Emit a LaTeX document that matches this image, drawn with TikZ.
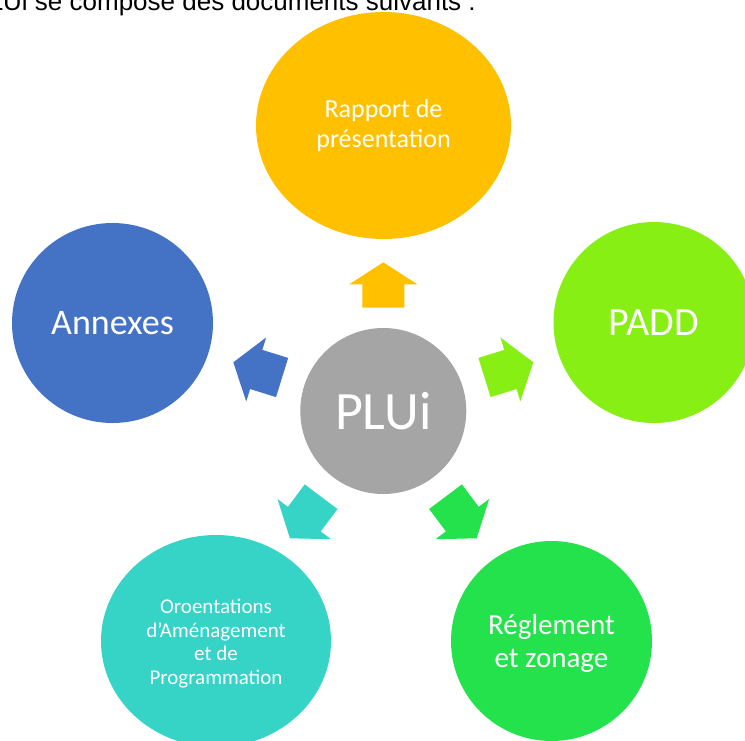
\documentclass[tikz,border=0pt]{standalone}
\usepackage{fontspec}
\setmainfont{Carlito}
\newfontfamily\arialf{Liberation Sans}
\usetikzlibrary{shapes.geometric,calc}
\definecolor{cyellow}{HTML}{FFC000}
\definecolor{cpadd}{HTML}{87EF14}
\definecolor{creg}{HTML}{23E24B}
\definecolor{cteal}{HTML}{36D3C7}
\definecolor{cblue}{HTML}{4472C4}
\definecolor{cgray}{HTML}{A5A5A5}
\newcommand{\blockarrow}[6]{% back, tip, head length, head half width, shaft half width, colour
  \path coordinate (hb-#1) at ($(#2)!#3!(#1)$);
  \fill[#6] ($(#1)!#5!90:(#2)$) -- ($(hb-#1)!#5!90:(#2)$) -- ($(hb-#1)!#4!90:(#2)$) -- (#2)
     -- ($(hb-#1)!#4!-90:(#2)$) -- ($(hb-#1)!#5!-90:(#2)$) -- ($(#1)!#5!-90:(#2)$) -- cycle;}
\tikzset{
  bubble/.style={ellipse, inner sep=0pt, text=white, align=center},
}
\begin{document}
\begin{tikzpicture}[x=1pt,y=-1pt]
\useasboundingbox (0,0) rectangle (745,740);
% intro line (cut by the top edge)
\node[anchor=base east, inner sep=0pt, font=\arialf\fontsize{26}{30}\selectfont] (intro) at (476,10.5) {Le PLUi se compose des documents suivants :};
% outer bubbles
\node[bubble, fill=cyellow, minimum width=255pt, minimum height=227pt, font=\fontsize{26}{30}\selectfont] (rapport) at (383.5,125.5) {Rapport de\\présentation};
\node[bubble, fill=cpadd, minimum width=201pt, minimum height=201pt, font=\fontsize{40}{48}\selectfont] (padd) at (654,322.5) {PADD};
\node[bubble, fill=cblue, minimum width=201pt, minimum height=200pt, font=\fontsize{36}{43}\selectfont] (annexes) at (112.5,323) {Annexes};
\node[bubble, fill=creg, minimum width=201pt, minimum height=200pt, font=\fontsize{29}{33}\selectfont] (reglement) at (551.5,641) {};
\node[text=white, align=center, inner sep=0pt, font=\fontsize{29}{33}\selectfont] (regtext) at (551.5,643) {Réglement\\et zonage};
\node[bubble, fill=cteal, minimum width=230pt, minimum height=212pt, font=\fontsize{21}{23.5}\selectfont] (oap) at (216,641) {};
\node[text=white, align=center, inner sep=0pt, font=\fontsize{21}{23.5}\selectfont] (oaptext) at (216,643.5) {Oroentations\\d'Aménagement\\et de\\Programmation};
% centre
\node[bubble, fill=cgray, minimum width=166pt, minimum height=166pt, font=\fontsize{54}{60}\selectfont] (plui) at (383.3,411) {PLUi};
% arrows
\coordinate (topB) at (383.3,307.7);  \coordinate (topT) at (383.3,262.3);
\coordinate (rB) at (484.5,377.5);    \coordinate (rT) at (533.3,362.3);
\coordinate (lB) at (282.1,377.5);    \coordinate (lT) at (233.3,362.3);
\coordinate (lrB) at (445.5,496.7);   \coordinate (lrT) at (476.7,538.3);
\coordinate (llB) at (321.1,496.7);   \coordinate (llT) at (289.9,538.3);
\blockarrow{topB}{topT}{22pt}{34pt}{21pt}{cyellow}
\blockarrow{rB}{rT}{24pt}{33.5pt}{20.5pt}{cpadd}
\blockarrow{lB}{lT}{24pt}{33.5pt}{20.5pt}{cblue}
\blockarrow{lrB}{lrT}{24pt}{33.5pt}{20.5pt}{creg}
\blockarrow{llB}{llT}{24pt}{33.5pt}{20.5pt}{cteal}
\end{tikzpicture}
\end{document}
